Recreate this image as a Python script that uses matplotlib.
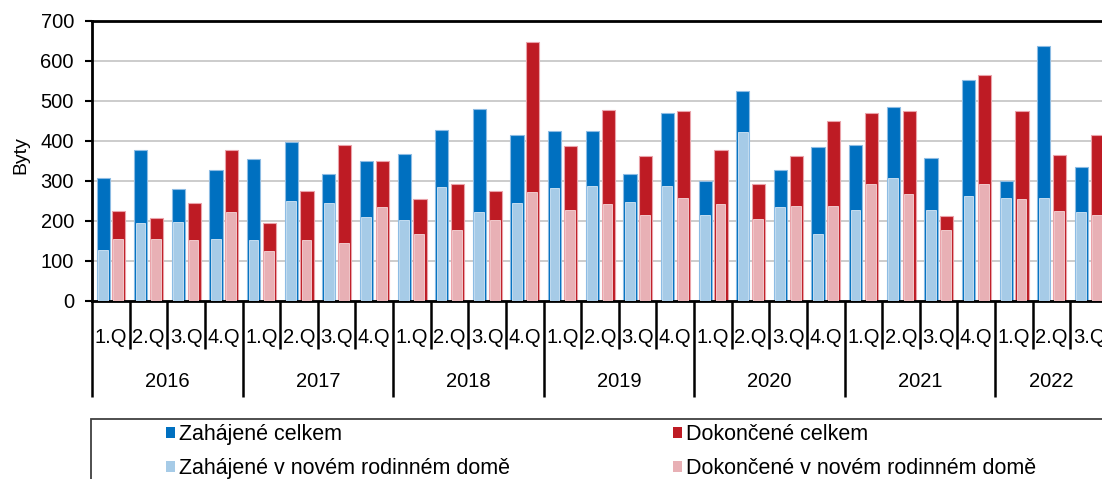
import matplotlib
matplotlib.use("Agg")
import matplotlib.pyplot as plt
from matplotlib.patches import Patch, Rectangle
import numpy as np

plt.rcParams['font.family'] = ['Liberation Sans', 'DejaVu Sans']

years = ["2016", "2017", "2018", "2019", "2020", "2021", "2022"]
quarters_per_year = [4, 4, 4, 4, 4, 4, 3]
quarter_labels = ["1.Q", "2.Q", "3.Q", "4.Q"]

zahajene_celkem = [307, 377, 281, 327, 354, 398, 317, 351, 367, 427, 481, 414,
                   424, 424, 317, 471, 301, 524, 327, 384, 391, 484, 357, 552,
                   301, 637, 334]
zahajene_rd = [128, 195, 198, 155, 152, 251, 245, 211, 202, 284, 222, 245,
               282, 288, 248, 288, 215, 422, 235, 168, 228, 308, 228, 262,
               258, 258, 222]
dokoncene_celkem = [224, 207, 244, 377, 195, 274, 391, 351, 254, 292, 274, 647,
                    387, 477, 362, 474, 377, 292, 362, 451, 471, 474, 212, 564,
                    474, 364, 414]
dokoncene_rd = [155, 155, 152, 222, 125, 152, 145, 234, 168, 178, 202, 272,
                228, 242, 215, 258, 242, 205, 238, 238, 292, 268, 178, 292,
                255, 225, 215]

labels = ["Zahájené celkem", "Zahájené v novém rodinném domě",
          "Dokončené celkem", "Dokončené v novém rodinném domě"]
c_blue = "#0070c0"
c_lblue = "#a6cbe7"
c_red = "#be1b24"
c_pink = "#e8b0b5"

W, H = 1102, 479
fig = plt.figure(figsize=(W / 100, H / 100), dpi=100)
ax = fig.add_axes([92 / W, 1 - 301 / H, (1108 - 92) / W, 280 / H])

n = len(zahajene_celkem)
x = np.arange(n)
ow, iw = 0.35, 0.26
ax.bar(x + 0.295, zahajene_celkem, width=ow, color=c_blue, edgecolor="#8dbce4", linewidth=0.8, zorder=2)
ax.bar(x + 0.29, zahajene_rd, width=iw, color=c_lblue, edgecolor="#d6e7f5", linewidth=0.6, zorder=3)
ax.bar(x + 0.715, dokoncene_celkem, width=ow, color=c_red, edgecolor="#eaa3aa", linewidth=0.8, zorder=2)
ax.bar(x + 0.70, dokoncene_rd, width=iw, color=c_pink, edgecolor="#f5d8da", linewidth=0.6, zorder=3)

ax.set_xlim(0, n)
ax.set_ylim(0, 700)
ax.set_yticks(np.arange(0, 701, 100))
ax.yaxis.grid(True, color="#c4c4c4", linewidth=1.2)
ax.set_axisbelow(True)

for s in ["top", "left", "bottom"]:
    ax.spines[s].set_linewidth(2)
    ax.spines[s].set_color("black")
ax.spines["right"].set_visible(False)

ax.tick_params(axis="y", direction="out", length=5, width=1.5, pad=8,
               labelsize=14.5, colors="black")

bounds = np.concatenate([[0], np.cumsum(quarters_per_year)])
ax.set_xticks(bounds)
ax.set_xticks(np.arange(0, n + 1), minor=True)
ax.tick_params(axis="x", which="major", direction="out", length=69, width=1.8, labelbottom=False)
ax.tick_params(axis="x", which="minor", direction="out", length=34.5, width=1.8, labelbottom=False)

trans = ax.get_xaxis_transform()
i = 0
for yi, (yr, nq) in enumerate(zip(years, quarters_per_year)):
    for q in range(nq):
        ax.text(i + q + 0.5, -0.1286, quarter_labels[q], transform=trans,
                ha="center", va="center", fontsize=14.5, clip_on=False)
    ax.text(i + nq / 2, -0.289, yr, transform=trans, ha="center", va="center",
            fontsize=14.5, clip_on=False)
    i += nq

ax.set_ylabel("Byty", fontsize=14)
ax.yaxis.set_label_coords(-0.062, 0.52)

# legend box
fig.patches.append(Rectangle((91 / W, -0.2), 1.2, 1 - 419 / H + 0.2,
                             transform=fig.transFigure, facecolor="none",
                             edgecolor="#404040", linewidth=1.3))

handles = [Patch(facecolor=c) for c in [c_blue, c_lblue, c_red, c_pink]]
common = dict(loc="upper left", frameon=False, fontsize=15.5, handlelength=0.42,
              handleheight=0.42, handletextpad=0.2, labelspacing=0.6,
              borderpad=0, borderaxespad=0)
fig.legend(handles[:2], labels[:2], bbox_to_anchor=(166 / W, 1 - 424 / H), **common)
fig.legend(handles[2:], labels[2:], bbox_to_anchor=(673 / W, 1 - 424 / H), **common)

fig.savefig("out.png", dpi=100)
